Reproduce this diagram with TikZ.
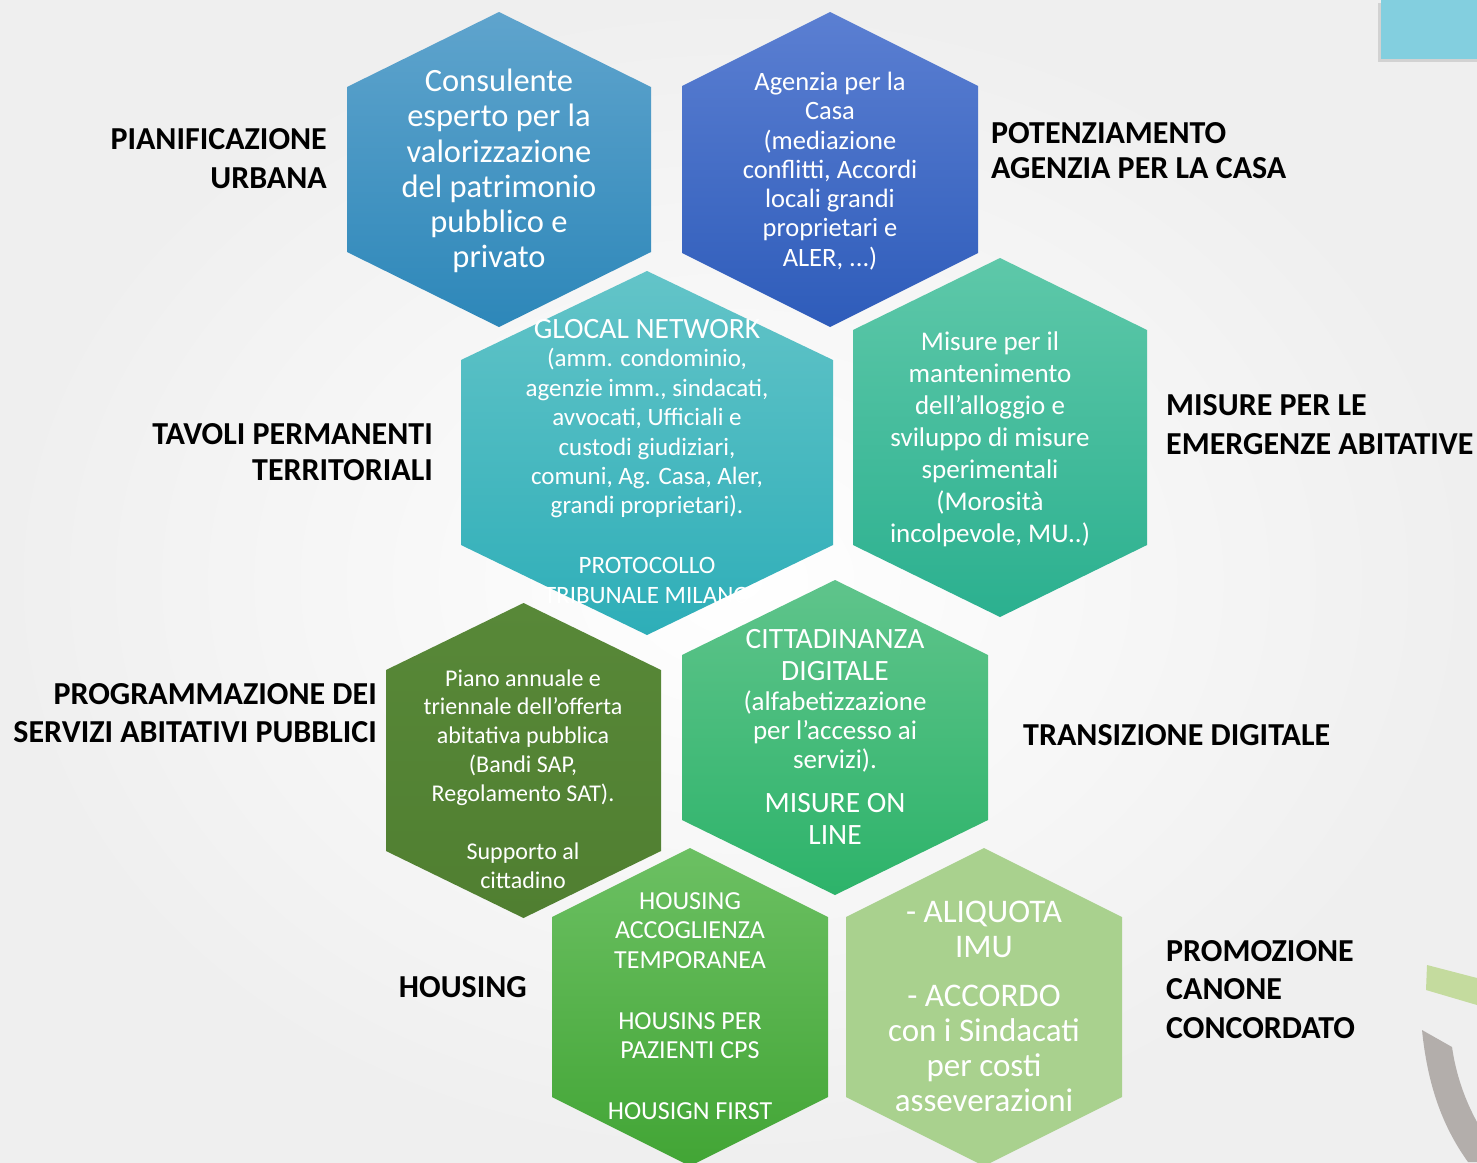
\documentclass[tikz,border=0pt]{standalone}
\usepackage{fontspec}
\setmainfont{Carlito}
\usetikzlibrary{shapes.geometric}
\definecolor{bgedge}{HTML}{EFEFEF}
\definecolor{hAtop}{HTML}{5FA4CD}\definecolor{hAbot}{HTML}{2D87B9}
\definecolor{hBtop}{HTML}{5B7FD2}\definecolor{hBbot}{HTML}{2E5CBA}
\definecolor{hCtop}{HTML}{63C4C8}\definecolor{hCbot}{HTML}{2EAEB8}
\definecolor{hDtop}{HTML}{5EC8A9}\definecolor{hDbot}{HTML}{2BB08F}
\definecolor{hEtop}{HTML}{588838}\definecolor{hEbot}{HTML}{507F31}
\definecolor{hFtop}{HTML}{5FC48B}\definecolor{hFbot}{HTML}{2DB36A}
\definecolor{hGtop}{HTML}{6CC063}\definecolor{hGbot}{HTML}{42A535}
\definecolor{hH}{HTML}{A9D18E}
\definecolor{cornerblue}{HTML}{83CFDF}
\definecolor{arcgreen}{HTML}{C4DB9E}
\definecolor{arcgray}{HTML}{B3AEAB}
\newcommand\hexa[7]{%
  \shade[#1] (#2,#4) -- ({#2+#3},#5) -- ({#2+#3},#6) -- (#2,#7) -- ({#2-#3},#6) -- ({#2-#3},#5) -- cycle;}
\tikzset{
  hextext/.style={text=white, align=center, inner sep=0pt},
  lbl/.style={text=black, font=\bfseries\fontsize{32}{39}\selectfont, inner sep=0pt},
}
\begin{document}
\begin{tikzpicture}[x=1pt,y=-1pt]
\useasboundingbox (0,0) rectangle (1477,1162);
\shade[inner color=white, outer color=bgedge] (0,0) rectangle (1477,1162);
% corner decorations
\fill[gray!35] (1378,3) rectangle (1477,62);
\fill[cornerblue] (1381,0) rectangle (1477,59);
\fill[arcgreen] (1427,965) -- (1477,978) -- (1477,1005) -- (1426,990) -- cycle;
\fill[arcgray] (1422,1030) .. controls (1428,1090) and (1445,1130) .. (1468,1162)
  -- (1477,1162) -- (1477,1122) .. controls (1465,1100) and (1456,1075) .. (1452,1047) -- cycle;
% hexagons
\hexa{top color=hAtop, bottom color=hAbot}{499}{152}{12}{87}{252}{327}
\hexa{top color=hBtop, bottom color=hBbot}{830}{148}{12}{86}{253}{327}
\hexa{top color=hCtop, bottom color=hCbot}{647}{186}{271}{360}{545}{635}
\hexa{top color=hDtop, bottom color=hDbot}{1000}{147}{258}{330}{545}{617}
\hexa{top color=hEtop, bottom color=hEbot}{523.5}{137.5}{603}{670}{851}{918}
\hexa{top color=hFtop, bottom color=hFbot}{835}{153}{580}{655}{820}{895}
\hexa{top color=hGtop, bottom color=hGbot}{690}{138}{848}{917}{1097}{1166}
\hexa{top color=hH, bottom color=hH}{984}{138}{848}{917}{1097}{1166}
% hexagon texts
\node[hextext, font=\fontsize{32.5}{35.2}\selectfont] (tA) at (499,171)
  {Consulente\\esperto per la\\valorizzazione\\del patrimonio\\pubblico e\\privato};
\node[hextext, font=\fontsize{26.5}{29.3}\selectfont] (tB) at (830,171)
  {Agenzia per la\\Casa\\(mediazione\\conflitti, Accordi\\locali grandi\\proprietari e\\ALER, ...)};
\node[hextext, font=\fontsize{29.5}{30}\selectfont] (tC1) at (647,329) {GLOCAL NETWORK};
\node[hextext, font=\fontsize{25}{29.4}\selectfont] (tC2) at (647,433.5)
  {(amm. condominio,\\agenzie imm., sindacati,\\avvocati, Ufficiali e\\custodi giudiziari,\\comuni, Ag. Casa, Aler,\\grandi proprietari).};
\node[hextext, font=\fontsize{25}{29.4}\selectfont] (tC3) at (647,580.5)
  {PROTOCOLLO\\TRIBUNALE MILANO};
\node[hextext, font=\fontsize{27}{32}\selectfont] (tD) at (990,439)
  {Misure per il\\mantenimento\\dell’alloggio e\\sviluppo di misure\\sperimentali\\(Morosità\\incolpevole, MU..)};
\node[hextext, font=\fontsize{24}{28.8}\selectfont] (tE1) at (523,737.5)
  {Piano annuale e\\triennale dell’offerta\\abitativa pubblica\\(Bandi SAP,\\Regolamento SAT).};
\node[hextext, font=\fontsize{24}{28.8}\selectfont] (tE2) at (523,866)
  {Supporto al\\cittadino};
\node[hextext, font=\fontsize{29.5}{32}\selectfont] (tF1) at (835,655)
  {CITTADINANZA\\DIGITALE};
\node[hextext, font=\fontsize{27}{29}\selectfont] (tF2) at (835,731.5)
  {(alfabetizzazione\\per l’accesso ai\\servizi).};
\node[hextext, font=\fontsize{29.5}{32}\selectfont] (tF3) at (835,819)
  {MISURE ON\\LINE};
\node[hextext, font=\fontsize{26}{29.5}\selectfont] (tG1) at (690,930.5)
  {HOUSING\\ACCOGLIENZA\\TEMPORANEA};
\node[hextext, font=\fontsize{26}{29.5}\selectfont] (tG2) at (690,1035.5)
  {HOUSINS PER\\PAZIENTI CPS};
\node[hextext, font=\fontsize{26}{29.5}\selectfont] (tG3) at (690,1111)
  {HOUSIGN FIRST};
\node[hextext, font=\fontsize{33}{35}\selectfont] (tH1) at (984,929)
  {- ALIQUOTA\\IMU};
\node[hextext, font=\fontsize{33}{35}\selectfont] (tH2) at (984,1048)
  {- ACCORDO\\con i Sindacati\\per costi\\asseverazioni};
% labels
\node[lbl, align=right, anchor=east] (l1) at (327,158.5) {PIANIFICAZIONE\\URBANA};
\node[lbl, align=left, anchor=west, font=\bfseries\fontsize{32}{35}\selectfont] (l2) at (991,150.5) {POTENZIAMENTO\\AGENZIA PER LA CASA};
\node[lbl, align=right, anchor=east, font=\bfseries\fontsize{32}{36}\selectfont] (l3) at (433,452) {TAVOLI PERMANENTI\\TERRITORIALI};
\node[lbl, align=left, anchor=west] (l4) at (1166,424.5) {MISURE PER LE\\EMERGENZE ABITATIVE};
\node[lbl, align=right, anchor=east, font=\bfseries\fontsize{32}{38}\selectfont] (l5) at (377,713) {PROGRAMMAZIONE DEI\\SERVIZI ABITATIVI PUBBLICI};
\node[lbl, anchor=west] (l6) at (1023,735) {TRANSIZIONE DIGITALE};
\node[lbl, anchor=east] (l7) at (527,987) {HOUSING};
\node[lbl, align=left, anchor=west, font=\bfseries\fontsize{32}{38.5}\selectfont] (l8) at (1166,989.5) {PROMOZIONE\\CANONE\\CONCORDATO};
\end{tikzpicture}
\end{document}
